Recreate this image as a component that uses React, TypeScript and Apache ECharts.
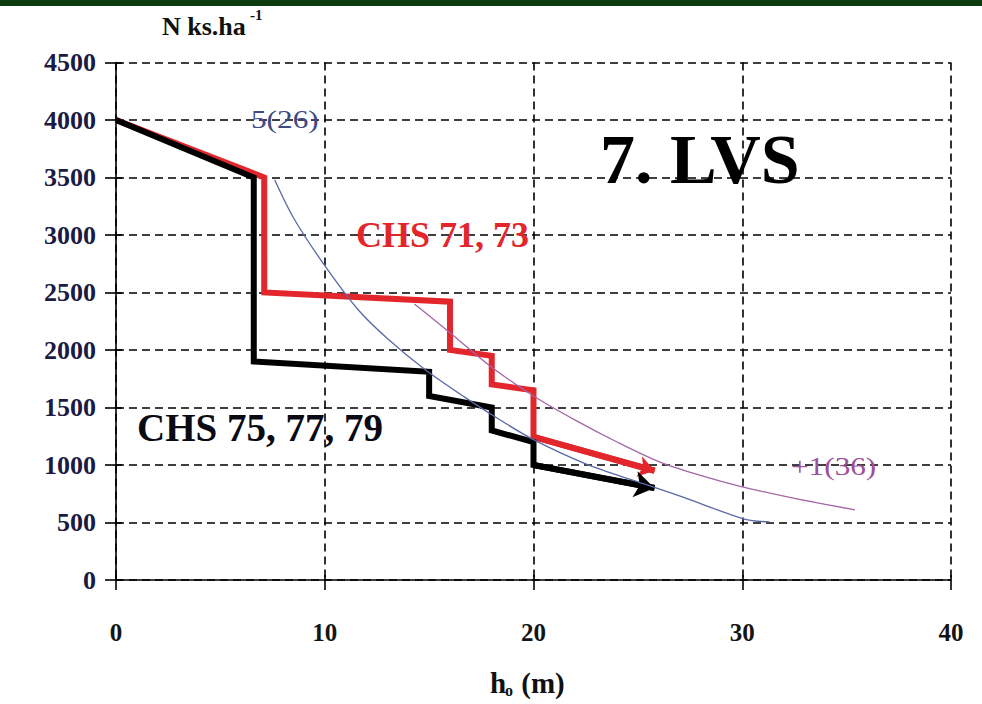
import { useEffect, useRef } from "react";
import * as echarts from "echarts";

// Axis ranges: tree height h0 (m) and stem number N (ks.ha-1)
const hMin = 0;
const hMax = 40;
const hStep = 10;
const nMin = 0;
const nMax = 4500;
const nStep = 500;

// CHS 71, 73 – stepped course of stem number (red)
const chs7173H = [0, 7.1, 7.1, 16, 16, 18, 18, 20, 20, 25.8];
const chs7173N = [4000, 3500, 2500, 2420, 2000, 1950, 1700, 1650, 1245, 950];

// CHS 75, 77, 79 – stepped course of stem number (black)
const chs757779H = [0, 6.6, 6.6, 15, 15, 18, 18, 20, 20, 25.8];
const chs757779N = [4000, 3500, 1900, 1810, 1600, 1500, 1300, 1200, 1000, 800];

// Model curve 5(26)
const curve526H = [7.6, 8.5, 9.9, 11.6, 13, 14.8, 16.7, 18.5, 20, 22.5, 25.3, 27.1, 30.1, 31.3];
const curve526N = [3480, 3150, 2760, 2350, 2100, 1830, 1590, 1380, 1220, 1010, 835, 725, 530, 505];

// Model curve +1(36)
const curve136H = [14.3, 16, 18, 20, 22, 24, 26, 28, 30, 32.5, 35.4];
const curve136N = [2400, 2150, 1850, 1600, 1390, 1200, 1030, 910, 810, 710, 610];

const RED = "#e3262b";
const BLACK = "#000000";
const BLUE = "#5a68a6";
const PURPLE = "#a565a8";
const SERIF = "Liberation Serif";

const zip = (xs: number[], ys: number[]) => xs.map((x, i) => [x, ys[i]]);
const lastTwo = (xs: number[], ys: number[]) => {
  const n = xs.length;
  return [
    [xs[n - 2], ys[n - 2]],
    [xs[n - 1], ys[n - 1]],
  ];
};
const font = (size: number, bold = true) =>
  `${bold ? "bold " : ""}${size}px "${SERIF}"`;

export default function App() {
  const ref = useRef<HTMLDivElement>(null);

  useEffect(() => {
    if (!ref.current) return;
    const chart = echarts.init(ref.current, undefined, { renderer: "svg" });

    const baseX = {
      type: "value" as const,
      min: hMin,
      max: hMax,
      interval: hStep,
    };
    const baseY = {
      type: "value" as const,
      min: nMin,
      max: nMax,
      interval: nStep,
    };
    const plain = (v: number) => String(v);

    chart.setOption({
      animation: false,
      backgroundColor: "#ffffff",
      grid: { left: 116, right: 31, top: 62.5, bottom: 124 },
      xAxis: [
        {
          ...baseX,
          position: "bottom",
          axisLine: { lineStyle: { color: BLACK, width: 1.6 } },
          axisTick: { length: 10, lineStyle: { color: BLACK, width: 1.6 } },
          axisLabel: {
            margin: 40,
            fontFamily: SERIF,
            fontWeight: "bold",
            fontSize: 25,
            color: "#141414",
            formatter: plain,
          },
          splitLine: {
            show: true,
            lineStyle: { color: BLACK, width: 1.6, type: [8, 5] },
          },
        },
        {
          ...baseX,
          position: "bottom",
          axisLine: { show: false },
          axisTick: { inside: true, length: 5, lineStyle: { color: BLACK, width: 1.6 } },
          axisLabel: { show: false },
          splitLine: { show: false },
        },
      ],
      yAxis: [
        {
          ...baseY,
          position: "left",
          axisLine: { show: true, lineStyle: { color: BLACK, width: 1.6 } },
          axisTick: { show: true, length: 11, lineStyle: { color: BLACK, width: 1.6 } },
          axisLabel: {
            margin: 20,
            fontFamily: SERIF,
            fontWeight: "bold",
            fontSize: 26,
            color: "#1a1a44",
            formatter: plain,
          },
          splitLine: {
            show: true,
            lineStyle: { color: BLACK, width: 1.6, type: [8, 5] },
          },
        },
        {
          ...baseY,
          position: "left",
          axisLine: { show: false },
          axisTick: { show: true, inside: true, length: 6, lineStyle: { color: BLACK, width: 1.6 } },
          axisLabel: { show: false },
          splitLine: { show: false },
        },
      ],
      series: [
        {
          name: "CHS 71, 73",
          type: "line",
          data: zip(chs7173H, chs7173N),
          symbol: "none",
          lineStyle: { color: RED, width: 6, join: "miter", cap: "butt" },
          z: 3,
        },
        {
          type: "lines",
          coordinateSystem: "cartesian2d",
          data: [{ coords: lastTwo(chs7173H, chs7173N) }],
          symbol: ["none", "arrow"],
          symbolSize: 16,
          lineStyle: { color: RED, width: 6, opacity: 1 },
          z: 3,
        },
        {
          name: "CHS 75, 77, 79",
          type: "line",
          data: zip(chs757779H, chs757779N),
          symbol: "none",
          lineStyle: { color: BLACK, width: 6, join: "miter", cap: "butt" },
          z: 4,
        },
        {
          type: "lines",
          coordinateSystem: "cartesian2d",
          data: [{ coords: lastTwo(chs757779H, chs757779N) }],
          symbol: ["none", "arrow"],
          symbolSize: 20,
          lineStyle: { color: BLACK, width: 6, opacity: 1 },
          z: 4,
        },
        {
          name: "5(26)",
          type: "line",
          data: zip(curve526H, curve526N),
          symbol: "none",
          smooth: 0.3,
          lineStyle: { color: BLUE, width: 1.3 },
          z: 5,
        },
        {
          name: "+1(36)",
          type: "line",
          data: zip(curve136H, curve136N),
          symbol: "none",
          smooth: 0.3,
          lineStyle: { color: PURPLE, width: 1.3 },
          z: 5,
        },
      ],
      graphic: [
        {
          type: "rect",
          left: 0,
          top: 0,
          shape: { width: 982, height: 6 },
          style: { fill: "#0b3a0f" },
        },
        {
          type: "text",
          x: 162,
          y: 13,
          style: { text: "N ks.ha", font: font(26), fill: "#111111" },
        },
        {
          type: "text",
          x: 250,
          y: 7,
          style: { text: "-1", font: font(15), fill: "#111111" },
        },
        {
          type: "text",
          x: 490,
          y: 668,
          style: { text: "h", font: font(29), fill: "#111111" },
        },
        {
          type: "text",
          x: 505,
          y: 682,
          style: { text: "o", font: font(16), fill: "#111111" },
        },
        {
          type: "text",
          x: 514,
          y: 668,
          style: { text: " (m)", font: font(29), fill: "#111111" },
        },
        {
          type: "text",
          x: 600,
          y: 124,
          style: { text: "7. LVS", font: font(70), fill: "#000000" },
          z: 10,
        },
        {
          type: "text",
          x: 356,
          y: 217,
          style: { text: "CHS 71, 73", font: font(36), fill: RED },
          z: 10,
        },
        {
          type: "text",
          x: 137,
          y: 408,
          style: { text: "CHS 75, 77, 79", font: font(39), fill: "#0a0a14" },
          z: 10,
        },
        {
          type: "text",
          x: 251,
          y: 107,
          scaleX: 1.25,
          style: { text: "5(26)", font: font(25, false), fill: "#3d4a86" },
          z: 10,
        },
        {
          type: "text",
          x: 791,
          y: 454,
          scaleX: 1.25,
          style: { text: "+1(36)", font: font(25, false), fill: "#9c4f9c" },
          z: 10,
        },
      ],
    });

    return () => chart.dispose();
  }, []);

  return (
    <div
      ref={ref}
      style={{ position: "absolute", left: 0, top: 0, width: 982, height: 704 }}
    />
  );
}
